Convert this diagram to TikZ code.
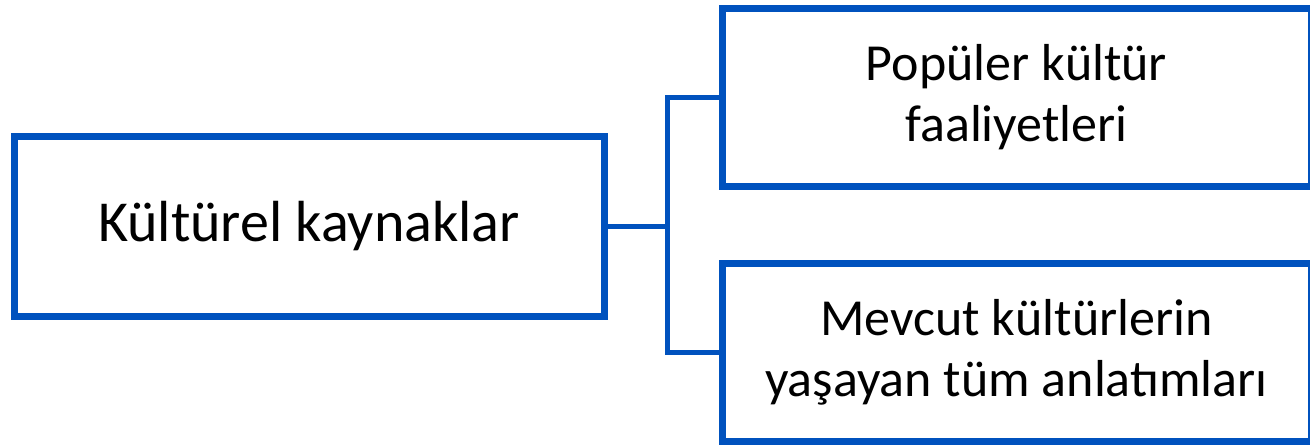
\documentclass[tikz,border=0pt]{standalone}
\usepackage{fontspec}
\setmainfont{Carlito}
\usetikzlibrary{positioning,shadows}
\definecolor{kblue}{RGB}{0,82,190}
\tikzset{
  box/.style={draw=kblue, line width=7pt, fill=white, align=center,
    inner sep=0pt, drop shadow={opacity=0.3, shadow xshift=2pt, shadow yshift=-3pt}},
  link/.style={draw=kblue, line width=5pt}
}
\begin{document}
\begin{tikzpicture}[x=1pt, y=-1pt]
  \useasboundingbox (0,0) rectangle (1310,447);
  % Left box
  \node[box, minimum width=590pt, minimum height=180pt,
    font=\fontsize{58}{70}\selectfont] (kaynak) at (309,226) {Kültürel kaynaklar};
  % Right boxes
  \node[box, minimum width=589pt, minimum height=178pt,
    font=\fontsize{52}{61}\selectfont] (populer) at (1016.5,97) {Popüler kültür\\faaliyetleri};
  \node[box, minimum width=589pt, minimum height=178pt,
    font=\fontsize{52}{61}\selectfont] (mevcut) at (1016.5,352) {Mevcut kültürlerin\\yaşayan tüm anlatımları};
  % Connectors
  \draw[link] (kaynak.east) -- ++(60,0) coordinate (dal);
  \draw[link] (populer.west) -| (dal) |- (mevcut.west);
\end{tikzpicture}
\end{document}
